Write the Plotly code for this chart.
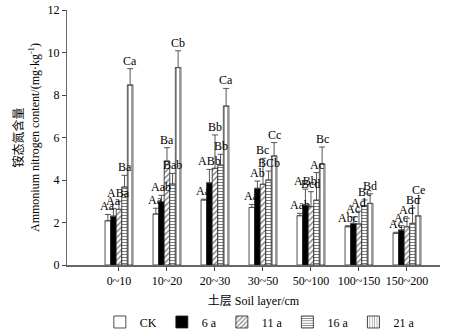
import plotly.graph_objects as go

layers = ["0~10", "10~20", "20~30", "30~50", "50~100", "100~150", "150~200"]
series_names = ["CK", "6 a", "11 a", "16 a", "21 a"]

ck = [2.08, 2.40, 3.06, 2.71, 2.32, 1.80, 1.49]
ck_err = [0.30, 0.27, 0.04, 0.14, 0.11, 0.05, 0.05]
ck_lab = ["Aa", "Aa", "Aa", "Aa", "Aab", "Abc", "Ac"]

y6 = [2.30, 2.98, 3.87, 3.61, 2.82, 1.96, 1.65]
y6_err = [0.35, 0.30, 0.63, 0.34, 0.75, 0.30, 0.20]
y6_lab = ["Aa", "Aab", "ABb", "Ab", "ABb", "Ac", "Ac"]

y11 = [2.62, 4.89, 4.55, 3.80, 2.75, 1.93, 1.80]
y11_err = [0.38, 0.63, 1.57, 1.22, 0.70, 0.60, 0.40]
y11_lab = ["ABa", "Ba", "Bb", "Bc", "Bcd", "Ad", "Ad"]

y16 = [3.67, 3.81, 4.70, 4.00, 3.05, 2.80, 1.96]
y16_err = [0.55, 0.50, 0.51, 0.42, 1.30, 0.26, 0.72]
y16_lab = ["Ba", "Bab", "Bb", "BCb", "Ac", "Bc", "Bd"]

y21 = [8.47, 9.29, 7.48, 5.13, 4.75, 2.90, 2.31]
y21_err = [0.77, 0.79, 0.83, 0.63, 0.80, 0.45, 0.82]
y21_lab = ["Ca", "Cb", "Ca", "Cc", "Bc", "Bd", "Ce"]

values = [ck, y6, y11, y16, y21]
errors = [ck_err, y6_err, y11_err, y16_err, y21_err]
labels = [ck_lab, y6_lab, y11_lab, y16_lab, y21_lab]

font_main = "Liberation Serif, Times New Roman, Noto Sans CJK SC, serif"

styles = [
    dict(color="white", pattern=dict(shape="")),
    dict(color="black", pattern=dict(shape="")),
    dict(color="white", pattern=dict(shape="/", fgcolor="black", bgcolor="white", size=4, solidity=0.35)),
    dict(color="white", pattern=dict(shape="-", fgcolor="black", bgcolor="white", size=3, solidity=0.35)),
    dict(color="white", pattern=dict(shape="|", fgcolor="#333", bgcolor="white", size=3, solidity=0.3)),
]

bargap = 0.42
fig = go.Figure()
for i, name in enumerate(series_names):
    fig.add_trace(go.Bar(
        name=name, x=layers, y=values[i],
        marker=dict(color=styles[i]["color"], pattern=styles[i]["pattern"],
                    line=dict(color="#222", width=0.8)),
        error_y=dict(type="data", array=errors[i], arrayminus=[0]*len(layers),
                     symmetric=False, color="#555", thickness=1, width=3),
    ))

n = len(series_names)
bw = (1 - bargap) / n
for i in range(n):
    off = (i - (n - 1) / 2) * bw
    for j in range(len(layers)):
        fig.add_annotation(
            x=j + off, y=values[i][j] + errors[i][j], xref="x", yref="y",
            text=labels[i][j], showarrow=False, yanchor="bottom",
            font=dict(family=font_main, size=12, color="black"),
            yshift=-1,
        )

fig.update_layout(
    width=452, height=336,
    margin=dict(l=67, r=12, t=10, b=71, autoexpand=False),
    plot_bgcolor="white", paper_bgcolor="white",
    barmode="group", bargap=bargap, bargroupgap=0,
    font=dict(family=font_main, size=12, color="black"),
    showlegend=True,
    legend=dict(orientation="h", x=0.517, xanchor="center", y=-0.2235, yanchor="middle",
                font=dict(size=12), itemwidth=30, tracegroupgap=0,
                bgcolor="rgba(0,0,0,0)"),
    xaxis=dict(
        type="category", range=[-1.083, 6.688], automargin=False,
        showline=True, linecolor="#666", linewidth=1.5,
        ticks="outside", ticklen=4, tickcolor="#444",
        showgrid=False, zeroline=False,
        tickfont=dict(size=12),
        title=dict(text="土层 Soil layer/cm", font=dict(size=12), standoff=9),
    ),
    yaxis=dict(
        range=[0, 12], dtick=2, automargin=False,
        showline=True, linecolor="#666", linewidth=1,
        ticks="outside", ticklen=4, tickcolor="#444",
        showgrid=False, zeroline=False,
        tickfont=dict(size=12),
        title=dict(text="铵态氮含量<br>Ammonium nitrogen content/(mg·kg<sup>-1</sup>)",
                   font=dict(size=12), standoff=5),
    ),
)

fig.write_html("out.html", config={"displayModeBar": False},
               post_script="document.body.style.margin='0';")
